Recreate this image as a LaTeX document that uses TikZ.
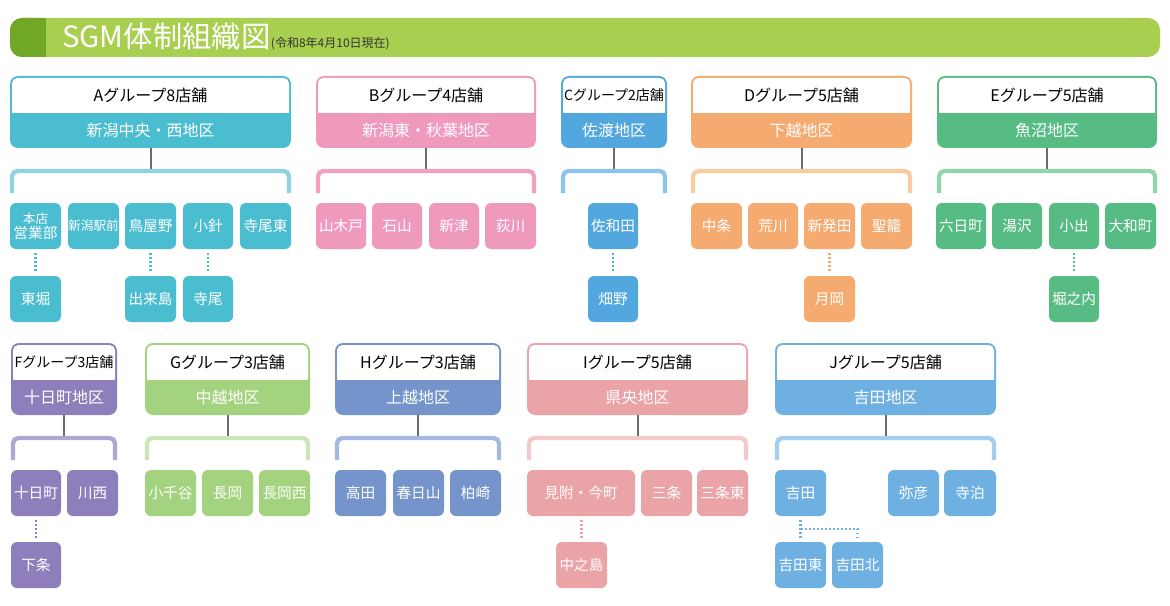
\documentclass[tikz,border=0pt]{standalone}
\usepackage{fontspec}
\setmainfont{Noto Sans CJK JP}
\begin{document}
\begin{tikzpicture}[x=0.75pt,y=-0.75pt,
  store/.style={rounded corners=4.5pt,inner sep=0pt,text=white,font=\fontsize{11}{11}\selectfont,align=center},
  gtitle/.style={inner sep=0pt,text=black,font=\fontsize{12}{12}\selectfont},
  gregion/.style={inner sep=0pt,text=white,font=\fontsize{12}{12}\selectfont},
  stem/.style={draw=gray!85!black,line width=1.5pt},
  brk/.style={line width=3.2pt,rounded corners=4pt},
  dots/.style={line width=1.6pt,dash pattern=on 1.4pt off 1.6pt}]
\useasboundingbox (0,0) rectangle (1170,606);
\fill[white] (0,0) rectangle (1170,606);
% header
\fill[rounded corners=9pt,fill={rgb,255:red,168;green,207;blue,80}] (10,18) rectangle (1160,57);
\fill[rounded corners=9pt,fill={rgb,255:red,112;green,168;blue,37}] (10,18) rectangle (48,57);
\fill[fill={rgb,255:red,168;green,207;blue,80}] (40,18) rectangle (50,57);
\fill[fill={rgb,255:red,112;green,168;blue,37}] (30,18) rectangle (46,57) ;
\node[anchor=base west,inner sep=0pt,text=white,font=\fontsize{22}{22}\selectfont] (title) at (62,48) {SGM体制組織図};
\node[anchor=base west,inner sep=0pt,text=black!80,font=\fontsize{9}{9}\selectfont] (date) at (title.base east) {(令和8年4月10日現在)};
% group macro: name x1 x2 row(top y) color light title region
\newcommand\grp[8]{%
  \pgfmathsetmacro\ya{#4}\pgfmathsetmacro\yb{#4+37}\pgfmathsetmacro\yc{#4+72}%
  \pgfmathsetmacro\yd{#4+95}\pgfmathsetmacro\ye{#4+117}%
  \pgfmathsetmacro\xm{(#2+#3)/2}%
  \fill[#5,rounded corners=6pt] (#2,\ya) rectangle (#3,\yc);
  \fill[white,rounded corners=4pt] (#2+2,\ya+2) rectangle (#3-2,\yb+4);
  \fill[#5] (#2+2,\yb) rectangle (#3-2,\yb+5);
  \node[gtitle] (#1t) at (\xm,{(\ya+\yb)/2+1}) {#7};
  \node[gregion] (#1r) at (\xm,{(\yb+\yc)/2}) {#8};
  \coordinate (#1b) at (\xm,\yd);
  \draw[stem] (#1r.center |- 0,\yc) -- (#1b);
  \draw[brk,#6] (#2+2,\ye) -- (#2+2,\yd) -- (#3-2,\yd) -- (#3-2,\ye);
}
\newcommand\st[6]{%
  \node[store,fill=#5,minimum width={(#3-#2)*0.75pt},minimum height={46*0.75pt}] (#1) at ({(#2+#3)/2},{#4+23}) {#6};
}
% colors
\definecolor{cA}{RGB}{75,189,208}\definecolor{lA}{RGB}{143,211,224}
\definecolor{cB}{RGB}{239,154,189}\definecolor{lB}{RGB}{241,160,196}
\definecolor{cC}{RGB}{82,168,222}\definecolor{lC}{RGB}{141,196,234}
\definecolor{cD}{RGB}{245,170,112}\definecolor{lD}{RGB}{249,203,163}
\definecolor{cE}{RGB}{87,187,132}\definecolor{lE}{RGB}{147,211,173}
\definecolor{cF}{RGB}{142,126,187}\definecolor{lF}{RGB}{177,166,209}
\definecolor{cG}{RGB}{163,211,127}\definecolor{lG}{RGB}{203,230,182}
\definecolor{cH}{RGB}{116,148,203}\definecolor{lH}{RGB}{164,185,224}
\definecolor{cI}{RGB}{234,163,167}\definecolor{lI}{RGB}{244,201,203}
\definecolor{cJ}{RGB}{110,176,225}\definecolor{lJ}{RGB}{165,205,238}
% row 1
\grp{A}{10}{291}{76}{cA}{lA}{Aグループ8店舗}{新潟中央・西地区}
\grp{B}{316}{536}{76}{cB}{lB}{Bグループ4店舗}{新潟東・秋葉地区}
\grp{C}{561}{667}{76}{cC}{lC}{\fontsize{10.5}{10.5}\selectfont Cグループ2店舗}{佐渡地区}
\grp{D}{691}{912}{76}{cD}{lD}{Dグループ5店舗}{下越地区}
\grp{E}{937}{1157}{76}{cE}{lE}{Eグループ5店舗}{魚沼地区}
\st{a1}{10}{61}{203}{cA}{\fontsize{9.5}{9}\selectfont 本店\\営業部}
\st{a2}{68}{119}{203}{cA}{\fontsize{9.5}{9}\selectfont 新潟駅前}
\st{a3}{125}{176}{203}{cA}{鳥屋野}
\st{a4}{183}{233}{203}{cA}{小針}
\st{a5}{240}{291}{203}{cA}{寺尾東}
\st{a6}{10}{61}{276}{cA}{東堀}
\st{a7}{125}{176}{276}{cA}{出来島}
\st{a8}{183}{233}{276}{cA}{寺尾}
\draw[dots,cA,shorten <=3pt,shorten >=2pt] (a1) -- (a6);
\draw[dots,cA,shorten <=3pt,shorten >=2pt] (a3) -- (a7);
\draw[dots,cA,shorten <=3pt,shorten >=2pt] (a4) -- (a8);
\st{b1}{316}{366}{203}{cB}{山木戸}
\st{b2}{372}{422}{203}{cB}{石山}
\st{b3}{429}{479}{203}{cB}{新津}
\st{b4}{485}{536}{203}{cB}{荻川}
\st{c1}{588}{638}{203}{cC}{佐和田}
\st{c2}{588}{638}{276}{cC}{畑野}
\draw[dots,cC,shorten <=3pt,shorten >=2pt] (c1) -- (c2);
\st{d1}{691}{742}{203}{cD}{中条}
\st{d2}{748}{798}{203}{cD}{荒川}
\st{d3}{804}{855}{203}{cD}{新発田}
\st{d4}{861}{912}{203}{cD}{聖籠}
\st{d5}{804}{855}{276}{cD}{月岡}
\draw[dots,cD,shorten <=3pt,shorten >=2pt] (d3) -- (d5);
\st{e1}{936}{986}{203}{cE}{六日町}
\st{e2}{992}{1042}{203}{cE}{湯沢}
\st{e3}{1049}{1099}{203}{cE}{小出}
\st{e4}{1105}{1156}{203}{cE}{大和町}
\st{e5}{1049}{1099}{276}{cE}{堀之内}
\draw[dots,cE,shorten <=3pt,shorten >=2pt] (e3) -- (e5);
% row 2
\grp{F}{11}{117}{343}{cF}{lF}{\fontsize{10.5}{10.5}\selectfont Fグループ3店舗}{十日町地区}
\grp{G}{145}{310}{343}{cG}{lG}{Gグループ3店舗}{中越地区}
\grp{H}{335}{501}{343}{cH}{lH}{Hグループ3店舗}{上越地区}
\grp{I}{527}{748}{343}{cI}{lI}{Iグループ5店舗}{県央地区}
\grp{J}{775}{996}{343}{cJ}{lJ}{Jグループ5店舗}{吉田地区}
\st{f1}{11}{61}{470}{cF}{十日町}
\st{f2}{67}{118}{470}{cF}{川西}
\st{f3}{11}{61}{542}{cF}{下条}
\draw[dots,cF,shorten <=3pt,shorten >=2pt] (f1) -- (f3);
\st{g1}{145}{196}{470}{cG}{小千谷}
\st{g2}{202}{253}{470}{cG}{長岡}
\st{g3}{259}{310}{470}{cG}{長岡西}
\st{h1}{335}{386}{470}{cH}{高田}
\st{h2}{393}{444}{470}{cH}{春日山}
\st{h3}{450}{501}{470}{cH}{柏崎}
\st{i1}{527}{635}{470}{cI}{見附・今町}
\st{i2}{641}{692}{470}{cI}{三条}
\st{i3}{697}{748}{470}{cI}{三条東}
\st{i4}{556}{607}{542}{cI}{中之島}
\draw[dots,cI,shorten <=3pt,shorten >=2pt] (i4.north |- i1.south) -- (i4);
\st{j1}{775}{826}{470}{cJ}{吉田}
\st{j2}{888}{939}{470}{cJ}{弥彦}
\st{j3}{944}{996}{470}{cJ}{寺泊}
\st{j4}{775}{826}{542}{cJ}{吉田東}
\st{j5}{832}{883}{542}{cJ}{吉田北}
\draw[dots,cJ,shorten <=3pt,shorten >=2pt] (j1) -- (j4);
\coordinate (jm) at (801,529);
\draw[dots,cJ,shorten >=2pt] (jm) -- (j5.north |- jm) -- (j5.north);
\end{tikzpicture}
\end{document}
